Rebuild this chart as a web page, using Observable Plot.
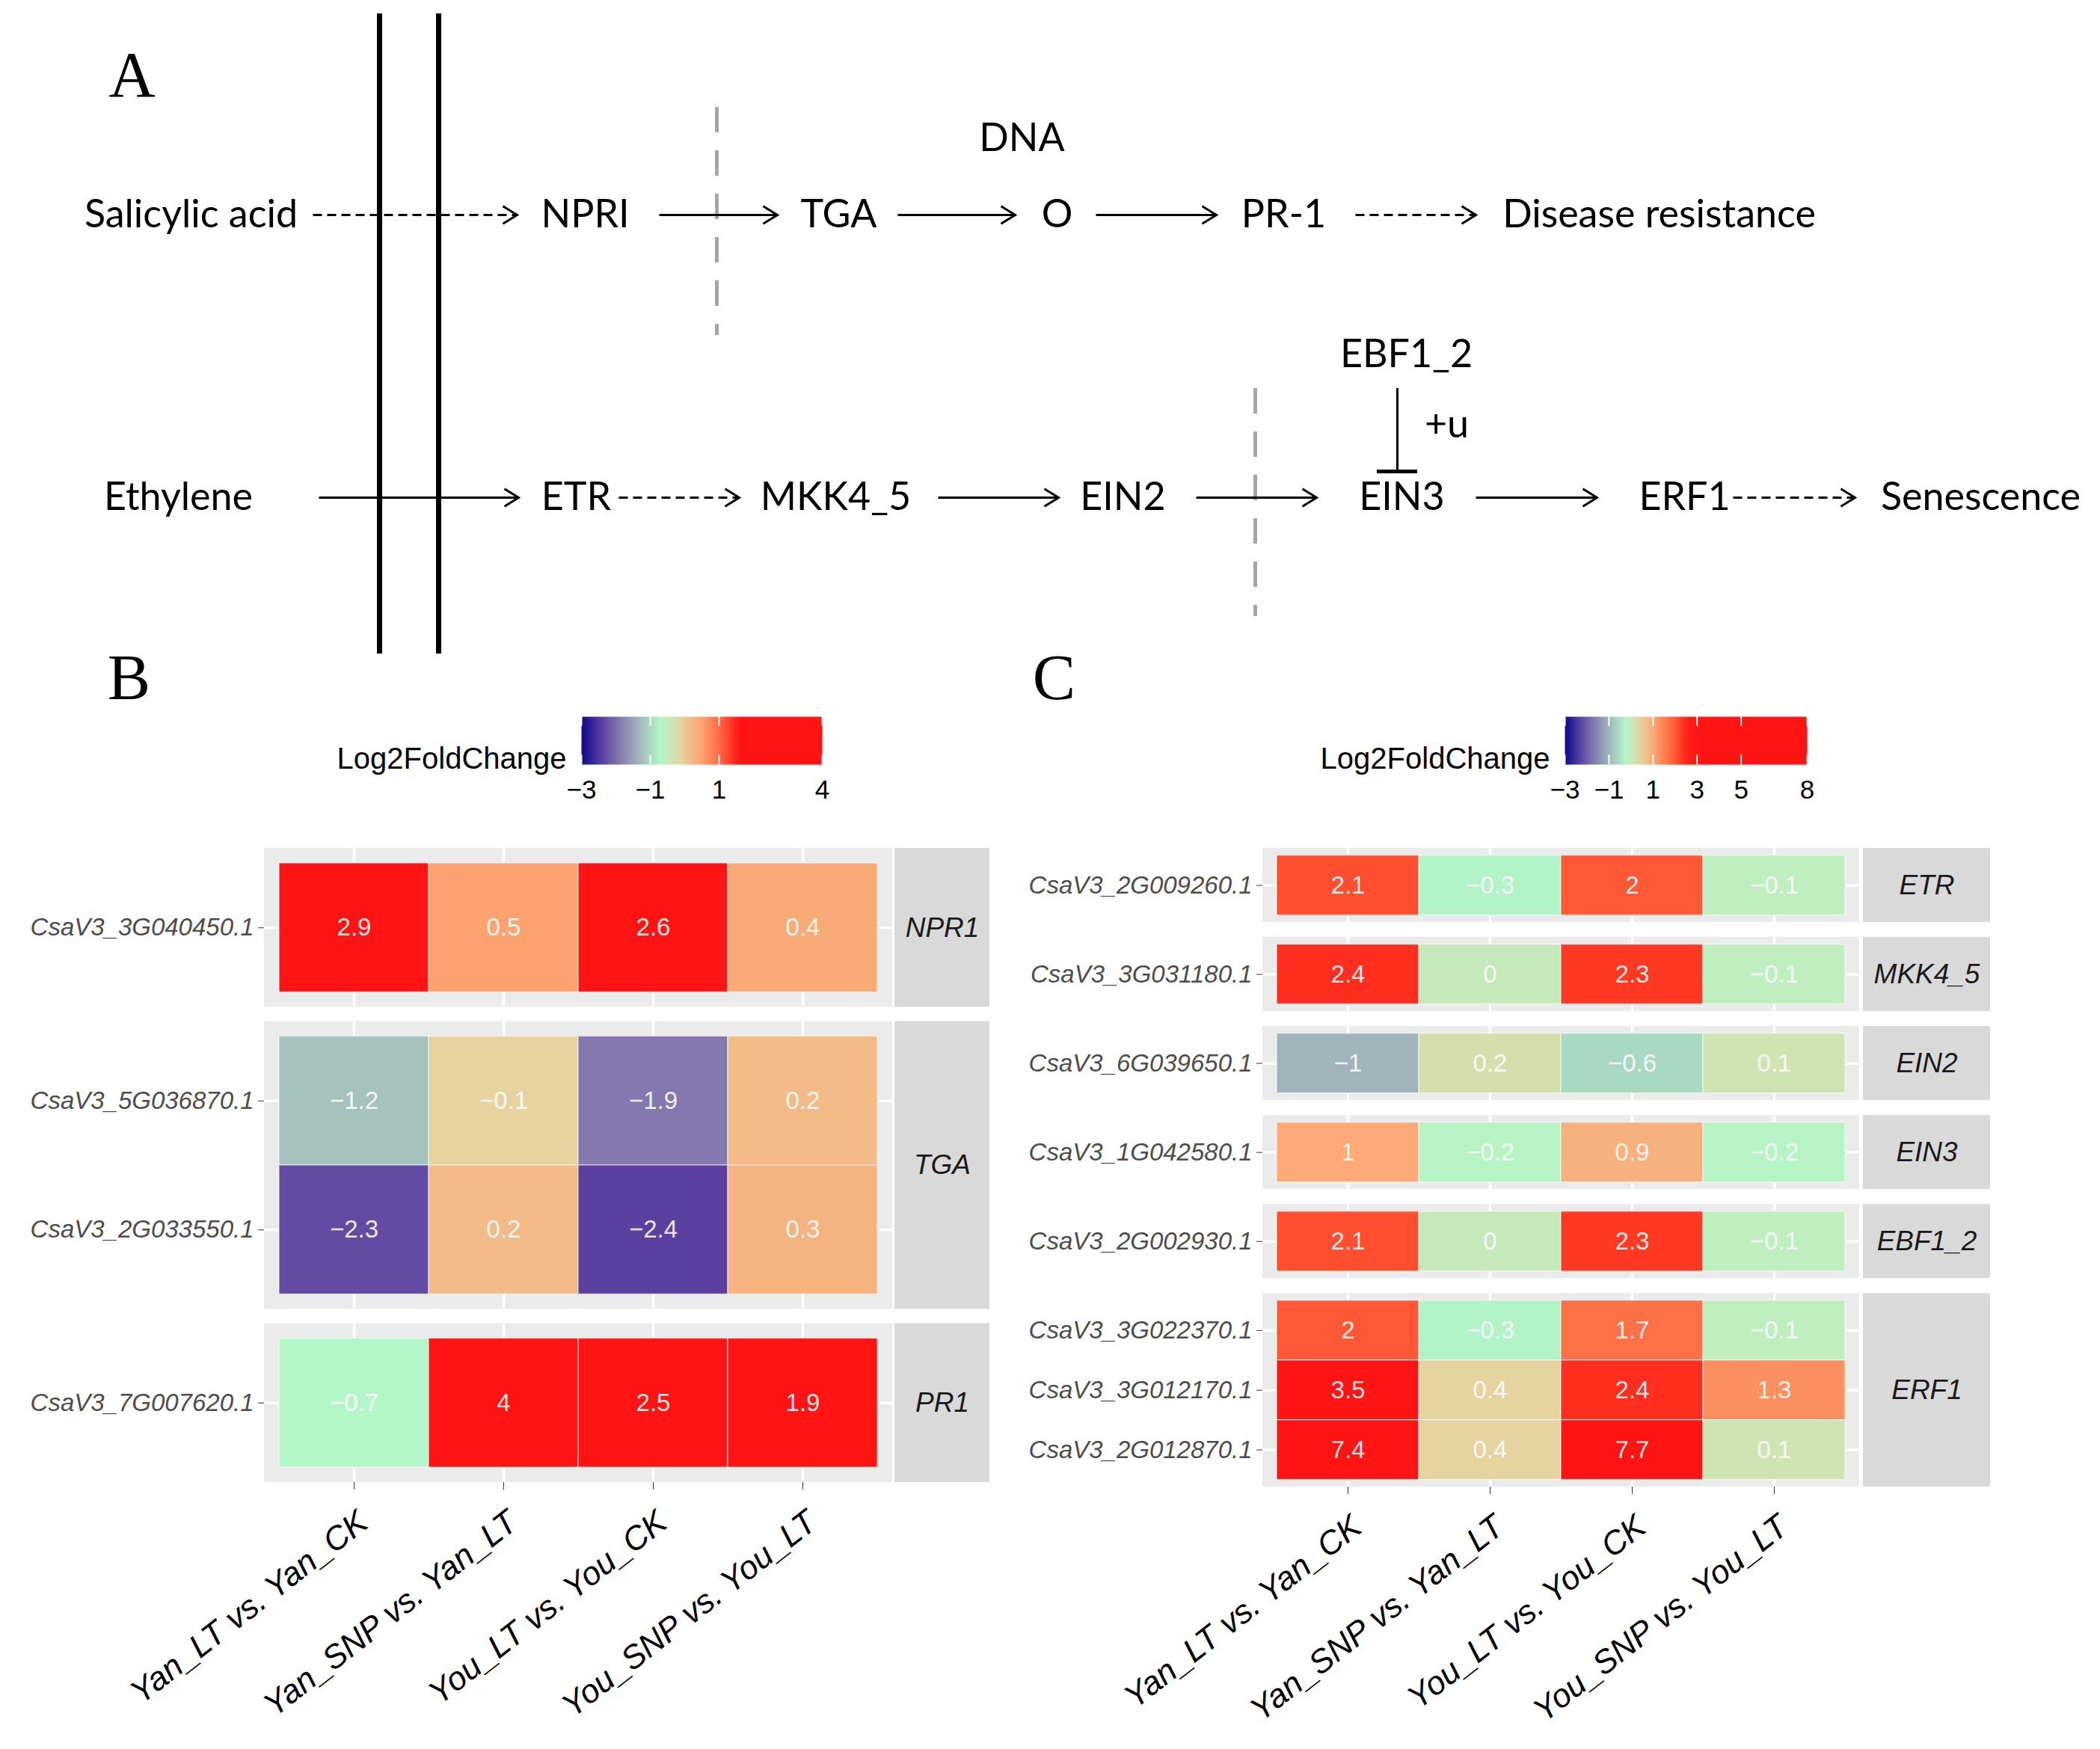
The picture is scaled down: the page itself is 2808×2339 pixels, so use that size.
<!DOCTYPE html>
<html>
<head>
<meta charset="utf-8">
<script src="https://cdn.jsdelivr.net/npm/d3@7"></script>
<script src="https://cdn.jsdelivr.net/npm/@observablehq/plot@0.6"></script>
<style>
html, body { margin: 0; padding: 0; background: #fff; }
#fig { position: relative; width: 2808px; height: 2339px; background: #fff; overflow: hidden; }
#fig svg { position: absolute; background: transparent; max-width: none; overflow: visible; }
</style>
</head>
<body>
<div id="fig"></div>
<script>
// ---------------- DATA ----------------
const comparisons = ["Yan_LT vs. Yan_CK", "Yan_SNP vs. Yan_LT", "You_LT vs. You_CK", "You_SNP vs. You_LT"];

const genesB = ["CsaV3_3G040450.1", "CsaV3_5G036870.1", "CsaV3_2G033550.1", "CsaV3_7G007620.1"];
const familiesB = ["NPR1", "TGA", "TGA", "PR1"];
const lfcB = [
  [2.9, 0.5, 2.6, 0.4],
  [-1.2, -0.1, -1.9, 0.2],
  [-2.3, 0.2, -2.4, 0.3],
  [-0.7, 4, 2.5, 1.9]
];

const genesC = ["CsaV3_2G009260.1", "CsaV3_3G031180.1", "CsaV3_6G039650.1", "CsaV3_1G042580.1",
                "CsaV3_2G002930.1", "CsaV3_3G022370.1", "CsaV3_3G012170.1", "CsaV3_2G012870.1"];
const familiesC = ["ETR", "MKK4_5", "EIN2", "EIN3", "EBF1_2", "ERF1", "ERF1", "ERF1"];
const lfcC = [
  [2.1, -0.3, 2, -0.1],
  [2.4, 0, 2.3, -0.1],
  [-1, 0.2, -0.6, 0.1],
  [1, -0.2, 0.9, -0.2],
  [2.1, 0, 2.3, -0.1],
  [2, -0.3, 1.7, -0.1],
  [3.5, 0.4, 2.4, 1.3],
  [7.4, 0.4, 7.7, 0.1]
];

const legendTitle = "Log2FoldChange";
const legendTicksB = [-3, -1, 1, 4];
const legendTicksC = [-3, -1, 1, 3, 5, 8];

// pathway diagram (panel A)
const topPathway = ["Salicylic acid", "NPRI", "TGA", "O", "PR-1", "Disease resistance"];
const topLinks = ["dashed", "solid", "solid", "solid", "dashed"];
const bottomPathway = ["Ethylene", "ETR", "MKK4_5", "EIN2", "EIN3", "ERF1", "Senescence"];
const bottomLinks = ["solid", "dashed", "solid", "solid", "solid", "dashed"];
const dnaLabel = "DNA";
const regulatorLabels = ["EBF1_2", "+u"];
const panelLetters = ["A", "B", "C"];

// ---------------- STYLE / LAYOUT ----------------
const W = 2808;
const fig = document.getElementById("fig");
const fmt = v => (v < 0 ? "\u2212" + Math.abs(v) : String(v));
const SANS = "'Liberation Sans', Arial, sans-serif";

const colorB = {
  type: "linear", interpolate: "rgb", clamp: true,
  domain: [-3, -2.4, -1.9, -1.2, -0.7, -0.1, 0.5, 1.0, 1.6, 4],
  range: ["#10088f", "#5b40a0", "#8478ae", "#a6c2bc", "#b3f7c8", "#e6d3a0", "#fda36f", "#ff6a45", "#ff1414", "#ff1414"]
};
const colorC = {
  type: "linear", interpolate: "rgb", clamp: true,
  domain: [-3, -2, -1, -0.6, -0.25, 0.4, 1, 1.3, 2, 2.5, 3.2, 8],
  range: ["#10088f", "#7060aa", "#a0b5bb", "#aad9c3", "#b3f7c8", "#e5d3a0", "#fbaa78", "#fd9060", "#ff5836", "#ff2418", "#ff1414", "#ff1414"]
};

const layoutA = {
  height: 960,
  topY: 287, bottomY: 665,
  topX: [255, 782, 1121, 1413, 1716, 2218],
  topLinkX: [[418, 691], [881, 1039], [1200, 1357], [1465, 1626], [1812, 1973]],
  bottomX: [238, 770, 1117, 1501, 1874, 2252, 2648],
  bottomLinkX: [[426, 693], [827, 988], [1254, 1415], [1599, 1760], [1973, 2135], [2317, 2480]],
  dna: [1366, 185],
  regulator: [[1880, 474], [1934, 568]],
  inhibit: {x: 1868, y1: 519, y2: 630, bar: [1841, 1895]},
  membranes: [507, 586], membraneY: [18, 874],
  cuts: [{x: 958, y1: 143, y2: 448}, {x: 1678, y1: 519, y2: 824}],
  letters: [[176, 101], [172, 907], [1409, 907]]
};

// chevron arrowhead symbol (tip at the point)
const chevron = {
  draw(context, size) {
    const r = Math.sqrt(size / Math.PI);
    context.moveTo(-r, -r * 0.62);
    context.lineTo(0, 0);
    context.lineTo(-r, r * 0.62);
  }
};

function place(svg, left, top) {
  svg.style.left = left + "px";
  svg.style.top = top + "px";
  fig.appendChild(svg);
}

// ---------------- PANEL A ----------------
(function drawDiagram() {
  const nodes = [
    ...topPathway.map((label, i) => ({label, x: layoutA.topX[i], y: layoutA.topY})),
    ...bottomPathway.map((label, i) => ({label, x: layoutA.bottomX[i], y: layoutA.bottomY})),
    {label: dnaLabel, x: layoutA.dna[0], y: layoutA.dna[1]},
    ...regulatorLabels.map((label, i) => ({label, x: layoutA.regulator[i][0], y: layoutA.regulator[i][1]}))
  ];
  const links = [
    ...topLinks.map((style, i) => ({style, x1: layoutA.topLinkX[i][0], x2: layoutA.topLinkX[i][1], y: layoutA.topY})),
    ...bottomLinks.map((style, i) => ({style, x1: layoutA.bottomLinkX[i][0], x2: layoutA.bottomLinkX[i][1], y: layoutA.bottomY}))
  ];
  const letters = panelLetters.map((t, i) => ({t, x: layoutA.letters[i][0], y: layoutA.letters[i][1]}));
  const svg = Plot.plot({
    width: W, height: layoutA.height, margin: 0,
    x: {domain: [0, W], axis: null},
    y: {domain: [0, layoutA.height], reverse: true, axis: null},
    style: {background: "transparent", overflow: "visible"},
    marks: [
      Plot.ruleX(layoutA.cuts, {x: "x", y1: "y1", y2: "y2", stroke: "#a6a6a6", strokeWidth: 5, strokeDasharray: "34,24"}),
      Plot.link(links.filter(d => d.style === "solid"), {x1: "x1", x2: "x2", y1: "y", y2: "y", stroke: "black", strokeWidth: 3}),
      Plot.link(links.filter(d => d.style === "dashed"), {x1: "x1", x2: "x2", y1: "y", y2: "y", stroke: "black", strokeWidth: 3, strokeDasharray: "12,7"}),
      Plot.dot(links, {x: "x2", y: "y", symbol: chevron, r: 19, fill: "none", stroke: "black", strokeWidth: 3, strokeLinejoin: "miter"}),
      Plot.ruleX(layoutA.membranes, {x: d => d, y1: layoutA.membraneY[0], y2: layoutA.membraneY[1], stroke: "black", strokeWidth: 7}),
      Plot.ruleX([layoutA.inhibit], {x: "x", y1: "y1", y2: "y2", stroke: "black", strokeWidth: 3}),
      Plot.ruleY([layoutA.inhibit], {y: "y2", x1: d => d.bar[0], x2: d => d.bar[1], stroke: "black", strokeWidth: 5}),
      Plot.text(nodes, {x: "x", y: "y", text: "label", fontFamily: "Lato, 'Open Sans', sans-serif", fontSize: 52, fill: "black"}),
      Plot.text(letters, {x: "x", y: "y", text: "t", fontFamily: "'Liberation Serif', 'Times New Roman', serif", fontSize: 86, fill: "black"})
    ]
  });
  place(svg, 0, 0);
})();

// ---------------- LEGENDS ----------------
function drawLegend({ticks, color, left, top, width, barX0, barX1}) {
  const lo = ticks[0], hi = ticks[ticks.length - 1];
  const common = {
    width, height: 142,
    marginLeft: barX0 - left, marginRight: width - (barX1 - left), marginTop: 18, marginBottom: 60,
    x: {domain: [lo, hi], axis: null},
    y: {domain: [0, 1], axis: null},
    color,
    style: {background: "transparent", overflow: "visible", fontFamily: SANS}
  };
  const overlay = [
    Plot.ruleX(ticks, {x: d => d, y1: 0, y2: 0.2, stroke: "white", strokeWidth: 2}),
    Plot.ruleX(ticks, {x: d => d, y1: 0.8, y2: 1, stroke: "white", strokeWidth: 2}),
    Plot.text(ticks, {x: d => d, y: 0, dy: 34, text: fmt, fontSize: 35, fontFamily: SANS, fill: "black"}),
    Plot.text([legendTitle], {x: lo, y: 0.11, dx: -20, text: d => d, textAnchor: "end", fontSize: 40, fontFamily: SANS, fill: "black"})
  ];
  let svg;
  try {
    svg = Plot.plot({...common, marks: [Plot.raster({fill: (x, y) => x, x1: lo, x2: hi, y1: 0, y2: 1}), ...overlay]});
  } catch (e) {
    const steps = d3.range(lo, hi, (hi - lo) / 300);
    svg = Plot.plot({...common, marks: [Plot.rect(steps, {x1: d => d, x2: d => d + (hi - lo) / 300 + 0.01, y1: 0, y2: 1, fill: d => d}), ...overlay]});
  }
  place(svg, left, top);
}

drawLegend({ticks: legendTicksB, color: colorB, left: 0, top: 940, width: 1140, barX0: 777, barX1: 1099});
drawLegend({ticks: legendTicksC, color: colorC, left: 1350, top: 940, width: 1100, barX0: 2092, barX1: 2416});

// ---------------- HEATMAPS ----------------
function drawHeatmap({genes, families, lfc, color, pxX, pxY, padY, gap, stripGap, stripW, left, top, marginLeft, marginRight, marginTop, marginBottom}) {
  const padX = 0.1;
  const famOrder = [...new Set(families)];
  let cursor = 0;
  const rows = [], panels = [];
  for (const f of famOrder) {
    const idx = genes.map((g, i) => i).filter(i => families[i] === f);
    const t0 = cursor;
    idx.forEach((i, k) => rows.push({gene: genes[i], index: i, y: t0 + padY + k}));
    const bottom = t0 + padY + idx.length + padY;
    panels.push({family: f, top: t0, bottom});
    cursor = bottom + gap;
  }
  const total = cursor - gap;
  const cells = rows.flatMap(r => comparisons.map((c, j) => ({gene: r.gene, col: j, y: r.y, value: lfc[r.index][j]})));
  const labelAt = new Map(rows.map(r => [r.y + 0.5, r.gene]));
  const x0 = -padX, x1 = comparisons.length + padX;
  const sx1 = x1 + stripGap / pxX, sx2 = x1 + (stripGap + stripW) / pxX;
  const frameW = (x1 - x0) * pxX, frameH = total * pxY;
  const colCenters = comparisons.map((c, j) => j + 0.5);

  const svg = Plot.plot({
    width: marginLeft + frameW + marginRight,
    height: marginTop + frameH + marginBottom,
    marginLeft, marginRight, marginTop, marginBottom,
    x: {domain: [x0, x1], axis: null, label: null},
    y: {domain: [0, total], reverse: true, axis: null, label: null},
    color,
    style: {background: "transparent", overflow: "visible", fontFamily: SANS},
    marks: [
      Plot.rect(panels, {x1: x0, x2: x1, y1: "top", y2: "bottom", fill: "#ebebeb"}),
      Plot.ruleX(panels.flatMap(p => colCenters.map(x => ({x, top: p.top, bottom: p.bottom}))),
        {x: "x", y1: "top", y2: "bottom", stroke: "white", strokeWidth: 3.5}),
      Plot.ruleY(rows, {y: d => d.y + 0.5, x1: x0, x2: x1, stroke: "white", strokeWidth: 3.5}),
      Plot.rect(cells, {x1: d => d.col, x2: d => d.col + 1, y1: "y", y2: d => d.y + 1, fill: "value",
        stroke: "white", strokeWidth: 1.3, strokeOpacity: 0.6}),
      Plot.text(cells, {x: d => d.col + 0.5, y: d => d.y + 0.5, text: d => fmt(d.value), fill: "white",
        fillOpacity: 0.9, fontSize: 33, fontFamily: SANS}),
      Plot.rect(panels, {x1: sx1, x2: sx2, y1: "top", y2: "bottom", fill: "#d9d9d9"}),
      Plot.text(panels, {x: (sx1 + sx2) / 2, y: d => (d.top + d.bottom) / 2, text: "family", fontSize: 37,
        fontStyle: "italic", fontFamily: SANS, fill: "#1a1a1a"}),
      Plot.axisY(rows.map(r => r.y + 0.5), {anchor: "left", tickFormat: d => labelAt.get(d), tickSize: 8, tickPadding: 6,
        fontSize: 33, fontStyle: "italic", fontFamily: SANS, fill: "#4d4d4d", stroke: "#333", label: null}),
      Plot.axisX(colCenters, {anchor: "bottom", tickFormat: () => "", tickSize: 10, stroke: "#333", label: null}),
      Plot.text(comparisons, {x: (d, j) => j + 0.5, y: total, text: d => d, rotate: -38, textAnchor: "end",
        lineAnchor: "top", dx: 2, dy: 34, fontSize: 44, fontStyle: "italic", fontFamily: SANS, fill: "black"})
    ]
  });
  place(svg, left, top);
}

drawHeatmap({
  genes: genesB, families: familiesB, lfc: lfcB, color: colorB,
  pxX: 200, pxY: 172.5, padY: 0.116, gap: 0.11, stripGap: 3, stripW: 127,
  left: 0, top: 1100, marginLeft: 353, marginRight: 137, marginTop: 34, marginBottom: 330
});
drawHeatmap({
  genes: genesC, families: familiesC, lfc: lfcC, color: colorC,
  pxX: 190, pxY: 79.9, padY: 0.12, gap: 0.25, stripGap: 5, stripW: 170,
  left: 1350, top: 1100, marginLeft: 338, marginRight: 322, marginTop: 34, marginBottom: 324
});
</script>
</body>
</html>
